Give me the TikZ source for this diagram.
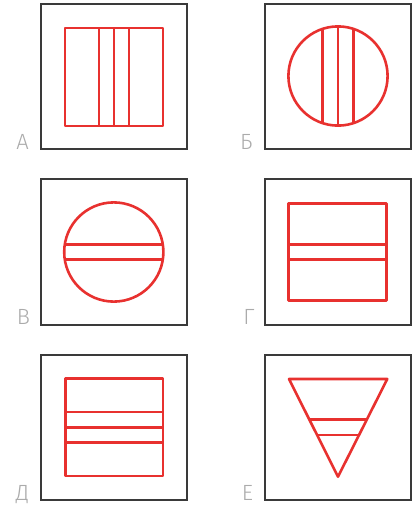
\documentclass[tikz,border=0pt]{standalone}
\usepackage{fontspec}
\setmainfont{Fira Sans Light}
\definecolor{redline}{HTML}{E8312F}
\definecolor{frame}{HTML}{3A3A3A}
\definecolor{labgray}{HTML}{ABABAB}
\begin{document}
\begin{tikzpicture}[x=1pt,y=-1pt,
  framebox/.style={draw=frame,line width=1.4pt},
  fig/.style={draw=redline,line width=2.6pt,line join=round},
  lab/.style={text=labgray,font=\fontsize{22}{22}\selectfont,inner sep=0pt,anchor=base}]
\useasboundingbox (0,0) rectangle (413,507);
% frames
\draw[framebox] (41,4) rectangle (187,149);
\draw[framebox] (265,4) rectangle (411,149);
\draw[framebox] (41,179) rectangle (187,325);
\draw[framebox] (265,179) rectangle (411,325);
\draw[framebox] (41,355) rectangle (187,500);
\draw[framebox] (265,355) rectangle (411,500);
% A
\draw[fig] (65,28) rectangle (163,126);
\draw[fig] (99,28) -- (99,126) (114,28) -- (114,126) (129,28) -- (129,126);
% B
\draw[fig] (338,76) circle (49.6);
\draw[fig] (322.3,{76-sqrt(49.6^2-15.7^2)}) -- (322.3,{76+sqrt(49.6^2-15.7^2)});
\draw[fig] (338,26.4) -- (338,125.6);
\draw[fig] (353.7,{76-sqrt(49.6^2-15.7^2)}) -- (353.7,{76+sqrt(49.6^2-15.7^2)});
% V
\draw[fig] (113.8,252) circle (49.6);
\draw[fig] ({113.8-sqrt(49.6^2-7.3^2)},244.7) -- ({113.8+sqrt(49.6^2-7.3^2)},244.7);
\draw[fig] ({113.8-sqrt(49.6^2-7.3^2)},259.3) -- ({113.8+sqrt(49.6^2-7.3^2)},259.3);
% G
\draw[fig] (288.3,203.3) rectangle (386.7,300.7);
\draw[fig] (288.3,244.3) -- (386.7,244.3) (288.3,259.3) -- (386.7,259.3);
% D
\draw[fig] (65.3,378.7) rectangle (163,476);
\draw[fig] (65.3,412) -- (163,412) (65.3,427.3) -- (163,427.3) (65.3,442.3) -- (163,442.3);
% E
\draw[fig] (289,379) -- (387.3,379) -- (338,476.7) -- cycle;
\draw[fig] (310,419.7) -- (366.3,419.7);
\draw[fig] (317.7,435) -- (358.3,435);
% labels
\node[lab] (la) at (22.5,149) {А};
\node[lab] (lb) at (246.5,149) {Б};
\node[lab] (lv) at (23.5,324.7) {В};
\node[lab] (lg) at (249,324.7) {Г};
\node[lab] (ld) at (22.5,500) {Д};
\node[lab] (le) at (247.5,500) {Е};
\end{tikzpicture}
\end{document}
